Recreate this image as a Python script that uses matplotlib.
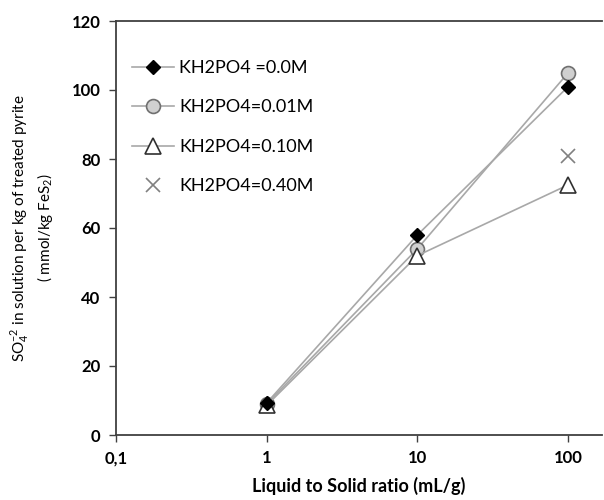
import numpy as np
import matplotlib
matplotlib.use("Agg")
import matplotlib.pyplot as plt

plt.rcParams['font.family'] = ['Lato', 'DejaVu Sans']
plt.rcParams['mathtext.fontset'] = 'custom'
plt.rcParams['mathtext.rm'] = 'Lato'

ratio = [1, 10, 100]
so4_000 = [9.3, 58, 101]
so4_001 = [9.0, 54, 105]
so4_010 = [8.6, 52, 72.5]
ratio_040 = [100]
so4_040 = [81]

labels = ["KH2PO4 =0.0M", "KH2PO4=0.01M", "KH2PO4=0.10M", "KH2PO4=0.40M"]
xticks = [0.1, 1, 10, 100]
xticklabels = ["0,1", "1", "10", "100"]
yticks = [0, 20, 40, 60, 80, 100, 120]

fig = plt.figure(figsize=(6.04, 5.0), dpi=100)
ax = fig.add_axes([0.192, 0.13, 0.805, 0.828])

line_col = "#a8a8a8"
ax.plot(ratio, so4_000, color=line_col, lw=1.2, marker="D", ms=7,
        mfc="black", mec="black", label=labels[0], zorder=3)
ax.plot(ratio, so4_001, color=line_col, lw=1.2, marker="o", ms=10,
        mfc="#d0d0d0", mec="#707070", mew=1.2, label=labels[1], zorder=2)
ax.plot(ratio, so4_010, color=line_col, lw=1.2, marker="^", ms=11,
        mfc="white", mec="#303030", mew=1.2, label=labels[2], zorder=2)
ax.plot(ratio_040, so4_040, ls="none", marker="x", ms=10,
        mec="#808080", mew=1.2, label=labels[3], zorder=2)

ax.set_xscale("log")
ax.set_xlim(0.1, 168)
ax.set_ylim(0, 120)
ax.set_xticks(xticks)
ax.set_xticklabels(xticklabels)
ax.xaxis.set_minor_locator(matplotlib.ticker.NullLocator())
ax.set_yticks(yticks)
for t in ax.get_xticklabels() + ax.get_yticklabels():
    t.set_fontweight("bold")
    t.set_fontsize(12)
ax.tick_params(direction="out", length=5, width=1, color="#404040", pad=6)

ax.spines["right"].set_visible(False)
for s in ["top", "left", "bottom"]:
    ax.spines[s].set_color("#404040")
    ax.spines[s].set_linewidth(1.3)

ax.set_xlabel("Liquid to Solid ratio (mL/g)", fontsize=13, fontweight="bold", labelpad=8)
ax.set_ylabel("SO$_4^{-2}$ in solution per kg of treated pyrite\n( mmol/kg FeS$_2$)",
              fontsize=11, labelpad=12, linespacing=1.2)

ax.legend(loc="upper left", bbox_to_anchor=(0.0, 0.945), frameon=False,
          fontsize=13, handlelength=2.3, labelspacing=1.3, handletextpad=0.3)

fig.savefig("out.png", dpi=100)
